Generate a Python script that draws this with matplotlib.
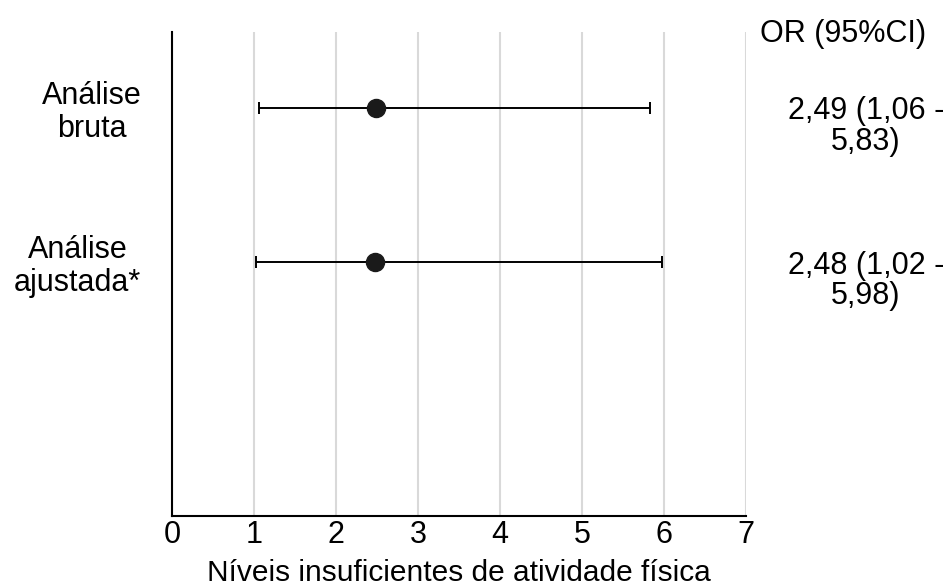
import matplotlib
matplotlib.use("Agg")
import matplotlib.pyplot as plt

plt.rcParams['font.family'] = ['Liberation Sans', 'DejaVu Sans']

# data
rows = ['Análise\nbruta', 'Análise\najustada*']
row_y = [2.7, 1.7]
odds = [2.49, 2.48]
ci_low = [1.06, 1.02]
ci_high = [5.83, 5.98]
ci_text = ['2,49 (1,06 -\n5,83)', '2,48 (1,02 -\n5,98)']
xticks = [0, 1, 2, 3, 4, 5, 6, 7]

fs = 22
top_px, bot_px = 32, 516

fig = plt.figure(figsize=(9.53, 5.88), dpi=100)
ax = fig.add_axes([172/953, 1-bot_px/588, (746-172)/953, (bot_px-top_px)/588])

err = [[o - l for o, l in zip(odds, ci_low)], [h - o for o, h in zip(odds, ci_high)]]
ax.errorbar(odds, row_y, xerr=err, fmt='o', color='#1a1a1a', ecolor='black',
            markersize=13, elinewidth=1.4, capsize=4, capthick=1.4, zorder=3)

ax.set_xlim(0, 7)
ax.set_ylim(0.05, 3.19)
ax.set_xticks(xticks)
ax.set_xticklabels([str(t) for t in xticks])
ax.grid(axis='x', color='#d9d9d9', linewidth=1.5)
ax.set_axisbelow(True)

ax.set_yticks(row_y)
ax.set_yticklabels(rows, ha='right', multialignment='center', linespacing=1.13)
ax.tick_params(axis='both', length=0, labelsize=fs)
ax.tick_params(axis='y', pad=22)
ax.tick_params(axis='x', pad=3)

for s in ['top', 'right']:
    ax.spines[s].set_visible(False)
for s in ['left', 'bottom']:
    ax.spines[s].set_linewidth(1.5)
    ax.spines[s].set_color('black')

ax.set_xlabel('Níveis insuficientes de atividade física', fontsize=21.5, va='baseline')
ax.xaxis.set_label_coords(0.5, (bot_px-581)/(bot_px-top_px))

for y, t in zip(row_y, ci_text):
    ax.annotate(t, xy=(866/953, y), xycoords=('figure fraction', 'data'),
                xytext=(0, 8), textcoords='offset points',
                ha='center', va='top', fontsize=fs, linespacing=1.03)

fig.text(843/953, 1-34/588, 'OR (95%CI)', ha='center', va='center', fontsize=fs)

fig.savefig('out.png', dpi=100)
